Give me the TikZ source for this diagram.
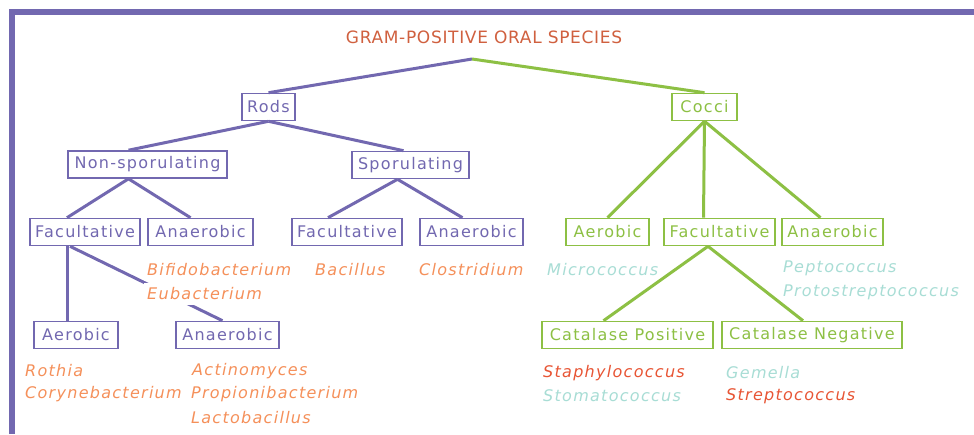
\documentclass[tikz,border=0pt]{standalone}
\usepackage{fontspec}
\setmainfont{DejaVu Sans}[LetterSpace=8]
\usetikzlibrary{calc}
\definecolor{purp}{HTML}{7268B0}
\definecolor{grn}{HTML}{8DC044}
\definecolor{ttl}{HTML}{D0603F}
\definecolor{orng}{HTML}{F5905A}
\definecolor{teal}{HTML}{A8DDD5}
\definecolor{redsp}{HTML}{E85535}
\tikzset{
  box/.style={draw, line width=1.6pt, minimum height=27pt, inner sep=0pt, font=\fontsize{16}{18}\selectfont},
  pbox/.style={box, draw=purp, text=purp},
  gbox/.style={box, draw=grn, text=grn},
  plink/.style={draw=purp, line width=3pt},
  glink/.style={draw=grn, line width=3pt},
  species/.style={anchor=west, inner xsep=3pt, inner ysep=5pt, font=\fontsize{16}{18}\selectfont\itshape},
  masked/.style={fill=white},
}
\begin{document}
\begin{tikzpicture}[x=1pt,y=-1pt]
\useasboundingbox (0,0) rectangle (974,434);
\fill[white] (0,0) rectangle (974,434);
% frame
\draw[purp, line width=6pt] (12,434) -- (12,12) -- (974,12);
% title
\node[text=ttl, font=\fontsize{17}{18}\selectfont\addfontfeature{LetterSpace=4}] (title) at (484,37) {GRAM-POSITIVE ORAL SPECIES};
\coordinate (root) at (472,59);
% boxes
\node[pbox, minimum width=53pt] (rods) at (268.5,107) {Rods};
\node[gbox, minimum width=65pt] (cocci) at (704.5,107) {Cocci};
\node[pbox, minimum width=159pt] (nonspor) at (147.5,164.5) {Non-sporulating};
\node[pbox, minimum width=117pt] (spor) at (410.5,165) {Sporulating};
\node[pbox, minimum width=110pt] (facL) at (85,232) {Facultative};
\node[pbox, minimum width=105pt] (anaL) at (200.5,232) {Anaerobic};
\node[pbox, minimum width=110pt] (facM) at (347,232) {Facultative};
\node[pbox, minimum width=103pt] (anaM) at (471.5,232) {Anaerobic};
\node[gbox, minimum width=83pt] (aerC) at (607.5,232) {Aerobic};
\node[gbox, minimum width=111pt] (facC) at (719.5,232) {Facultative};
\node[gbox, minimum width=101pt] (anaC) at (832.5,232) {Anaerobic};
\node[pbox, minimum width=84pt] (aerL) at (76,335) {Aerobic};
\node[pbox, minimum width=103pt] (anaL2) at (227.5,335) {Anaerobic};
\node[gbox, minimum width=171pt] (catP) at (627.5,335) {Catalase Positive};
\node[gbox, minimum width=180pt] (catN) at (812,335) {Catalase Negative};
% connectors
\draw[plink] (root) -- (rods.north);
\draw[glink] (root) -- (cocci.north);
\draw[plink] (rods.south) -- ([xshift=-19pt]nonspor.north);
\draw[plink] (rods.south) -- ([xshift=-7pt]spor.north);
\draw[plink] ([xshift=-19pt]nonspor.south) -- ([xshift=-18pt]facL.north);
\draw[plink] ([xshift=-19pt]nonspor.south) -- ([xshift=-10pt]anaL.north);
\draw[plink] ([xshift=-13pt]spor.south) -- ([xshift=-19pt]facM.north);
\draw[plink] ([xshift=-13pt]spor.south) -- ([xshift=-9pt]anaM.north);
\draw[glink] (cocci.south) -- (aerC.north);
\draw[glink] (cocci.south) -- ([xshift=-16pt]facC.north);
\draw[glink] (cocci.south) -- ([xshift=-12pt]anaC.north);
\draw[plink] ([xshift=-18pt]facL.south) -- ([xshift=-9pt]aerL.north);
\draw[plink] ([xshift=-15pt]facL.south) -- ([xshift=-5pt]anaL2.north);
\draw[glink] ([xshift=-11.5pt]facC.south) -- ([xshift=-24pt]catP.north);
\draw[glink] ([xshift=-11.5pt]facC.south) -- ([xshift=-9pt]catN.north);
% species
\node[species, masked, text=orng] (bifido) at (144,270) {Bifidobacterium};
\node[species, masked, text=orng] (eubac) at (144,294) {Eubacterium};
\node[species, text=orng] (bacil) at (312,270) {Bacillus};
\node[species, text=orng] (clost) at (416,270) {Clostridium};
\node[species, text=teal] (micro) at (544,270) {Micrococcus};
\node[species, text=teal] (pepto) at (780,268) {Peptococcus};
\node[species, text=teal] (proto) at (780,292) {Protostreptococcus};
\node[species, text=orng] (rothia) at (22,371) {Rothia};
\node[species, text=orng] (coryne) at (22,394) {Corynebacterium};
\node[species, text=orng] (actino) at (189,371) {Actinomyces};
\node[species, text=orng] (propio) at (188,394) {Propionibacterium};
\node[species, text=orng] (lacto) at (188,418) {Lactobacillus};
\node[species, text=redsp] (staph) at (540,373) {Staphylococcus};
\node[species, text=teal] (stoma) at (540,396) {Stomatococcus};
\node[species, text=teal] (gemella) at (723,373) {Gemella};
\node[species, text=redsp] (strep) at (723,396) {Streptococcus};
\end{tikzpicture}
\end{document}
